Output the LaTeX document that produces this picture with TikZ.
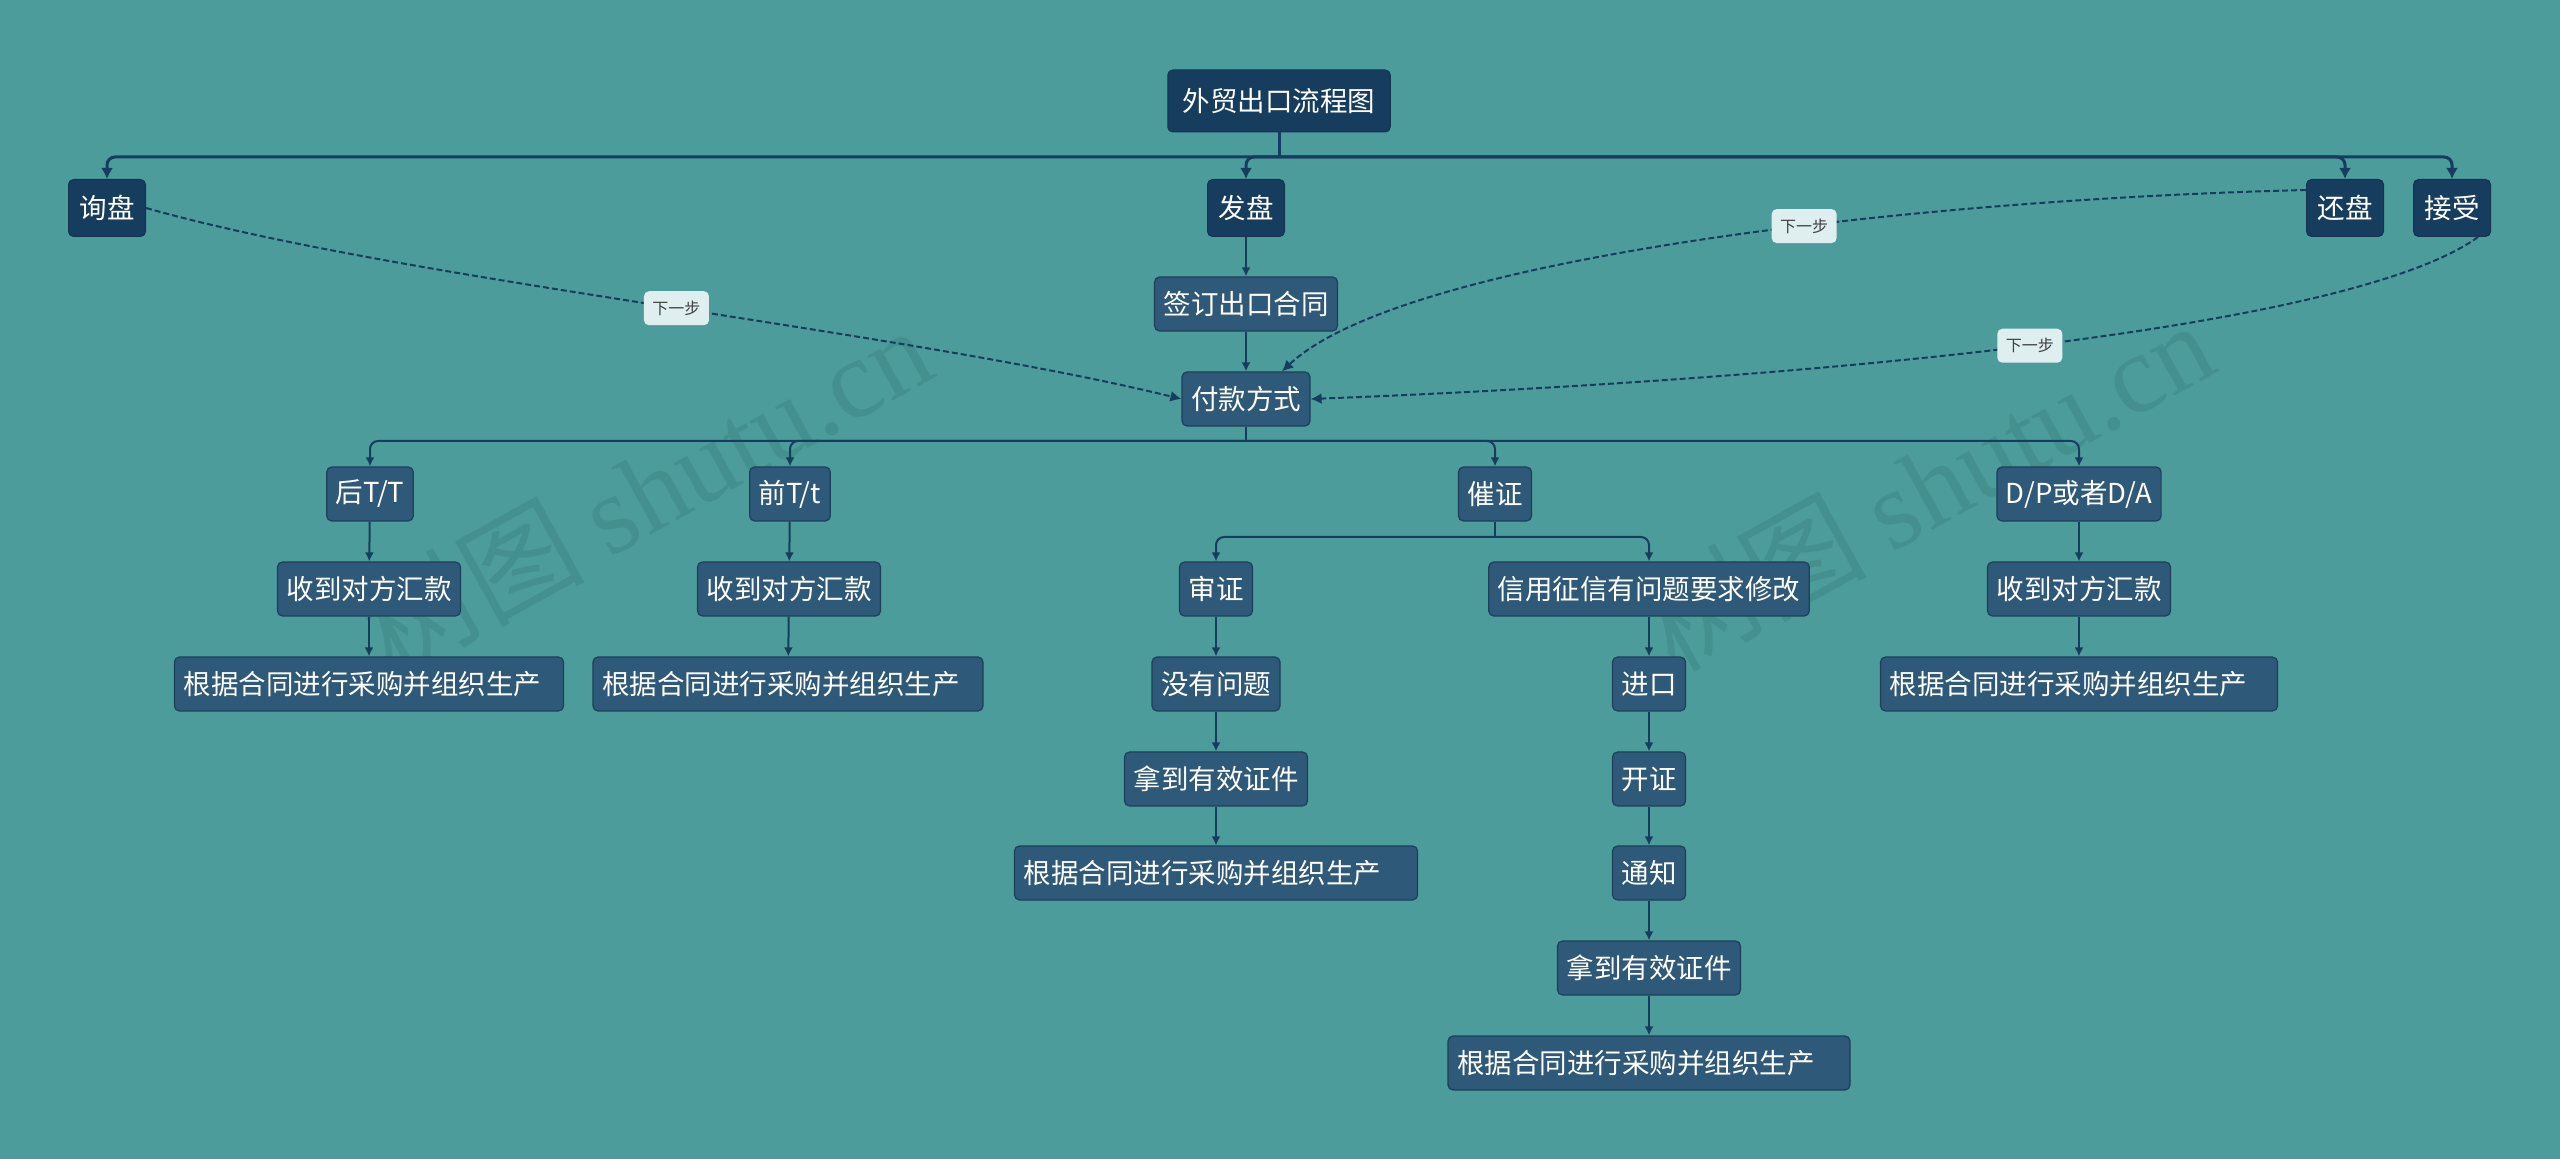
\documentclass[tikz,border=0pt]{standalone}
\usepackage{fontspec}
\setmainfont{Noto Sans CJK SC}
\newfontfamily\wmfont{Liberation Serif}
\usetikzlibrary{arrows.meta,calc}
\definecolor{bg}{HTML}{4D9C9C}
\definecolor{darkbox}{HTML}{173D5E}
\definecolor{midbox}{HTML}{2F5978}
\definecolor{midborder}{HTML}{1D3F5A}
\definecolor{labfill}{HTML}{DFEEEF}
\definecolor{wm}{HTML}{43908F}
\definecolor{linec}{HTML}{173D5E}
\begin{document}
\begin{tikzpicture}[x=0.5pt,y=-0.5pt,font=\fontsize{13.75}{16}\selectfont,
  base/.style={rounded corners=2.5pt,text=white,inner ysep=0pt},
  topbox/.style={base,fill=darkbox,draw=darkbox!85!black,line width=0.5pt,inner xsep=5.5pt,minimum height=28.5pt},
  rootbox/.style={topbox,inner xsep=7.5pt,minimum height=31pt},
  box/.style={base,fill=midbox,draw=midborder,line width=0.6pt,inner xsep=4.5pt,minimum height=27pt},
  genbox/.style={box,text width=#1,align=left},
  topline/.style={draw=linec,line width=1.5pt},
  toparrow/.style={topline,rounded corners=4pt,-{Latex[length=5.5pt,width=6pt]}},
  conline/.style={draw=linec,line width=1pt},
  conarrow/.style={conline,rounded corners=4pt,-{Latex[length=4.5pt,width=4.5pt]}},
  nextstep/.style={draw=linec,line width=1pt,dash pattern=on 3pt off 1.5pt,-{Latex[length=5.5pt,width=5.5pt]}},
  steplabel/.style={fill=labfill,text=black!75,rounded corners=2.5pt,font=\fontsize{8}{9}\selectfont,minimum width=32.5pt,minimum height=17pt,inner sep=1pt},
  wmark/.style={text=wm,rotate=29,font=\fontsize{56}{60}\selectfont}
]
\useasboundingbox (0,0) rectangle (2560,1159);
\fill[bg] (0,0) rectangle (2560,1159);

% watermarks
\node[wmark] (wm1) at (645,490) {树图 {\wmfont shutu.cn}};
\node[wmark] (wm2) at (1927,485) {树图 {\wmfont shutu.cn}};

% top level
\node[rootbox] (root) at (1279,101) {外贸出口流程图};
\node[topbox] (xunpan) at (107,208) {询盘};
\node[topbox] (fapan) at (1246,208) {发盘};
\node[topbox] (huanpan) at (2345,208) {还盘};
\node[topbox] (jieshou) at (2452,208) {接受};

\node[box] (qianding) at (1246,304) {签订出口合同};
\node[box] (fukuan) at (1246,399) {付款方式};

\node[box] (houtt) at (370,494) {后T/T};
\node[box] (qiantt) at (790,494) {前T/t};
\node[box] (cuizheng) at (1495,494) {催证};
\node[box] (dp) at (2079,494) {D/P或者D/A};

\node[box] (shou1) at (369,589) {收到对方汇款};
\node[box] (shou2) at (789,589) {收到对方汇款};
\node[box] (shenzheng) at (1216,589) {审证};
\node[box] (xinyong) at (1649,589) {信用征信有问题要求修改};
\node[box] (shou3) at (2079,589) {收到对方汇款};

\node[genbox=185.5pt] (gen1) at (369,684) {根据合同进行采购并组织生产};
\node[genbox=186pt] (gen2) at (788,684) {根据合同进行采购并组织生产};
\node[box] (meiyou) at (1216,684) {没有问题};
\node[box] (jinkou) at (1649,684) {进口};
\node[genbox=189.5pt] (gen3) at (2079,684) {根据合同进行采购并组织生产};

\node[box] (nadao1) at (1216,779) {拿到有效证件};
\node[box] (kaizheng) at (1649,779) {开证};

\node[genbox=192.5pt] (gen4) at (1216,873) {根据合同进行采购并组织生产};
\node[box] (tongzhi) at (1649,873) {通知};

\node[box] (nadao2) at (1649,968) {拿到有效证件};
\node[genbox=192pt] (gen5) at (1649,1063) {根据合同进行采购并组织生产};

% top bus
\coordinate (b1) at (1279,157);
\draw[topline] (root.south) -- (b1);
\draw[toparrow] (b1) -| (xunpan.north);
\draw[toparrow] (b1) -| (fapan.north);
\draw[toparrow] (b1) -| (huanpan.north);
\draw[toparrow] (b1) -| (jieshou.north);

\draw[conarrow] (fapan) -- (qianding);
\draw[conarrow] (qianding) -- (fukuan);

% second bus
\coordinate (b2) at (1246,441);
\draw[conline] (fukuan.south) -- (b2);
\draw[conarrow] (b2) -| (houtt.north);
\draw[conarrow] (b2) -| (qiantt.north);
\draw[conarrow] (b2) -| (cuizheng.north);
\draw[conarrow] (b2) -| (dp.north);

\draw[conarrow] (houtt) -- (shou1);
\draw[conarrow] (shou1) -- (gen1);
\draw[conarrow] (qiantt) -- (shou2);
\draw[conarrow] (shou2) -- (gen2);
\draw[conarrow] (dp) -- (shou3);
\draw[conarrow] (shou3) -- (gen3);

% third bus
\coordinate (b3) at (1495,537);
\draw[conline] (cuizheng.south) -- (b3);
\draw[conarrow] (b3) -| (shenzheng.north);
\draw[conarrow] (b3) -| (xinyong.north);

\draw[conarrow] (shenzheng) -- (meiyou);
\draw[conarrow] (meiyou) -- (nadao1);
\draw[conarrow] (nadao1) -- (gen4);
\draw[conarrow] (xinyong) -- (jinkou);
\draw[conarrow] (jinkou) -- (kaizheng);
\draw[conarrow] (kaizheng) -- (tongzhi);
\draw[conarrow] (tongzhi) -- (nadao2);
\draw[conarrow] (nadao2) -- (gen5);

% dashed "next step" links
\draw[nextstep] (xunpan.east) .. controls (400,280) and (900,330) .. (fukuan.west)
  node[steplabel,pos=0.52] (l1) {下一步};
\draw[nextstep] ($(huanpan.west)+(0,-18)$) .. controls (1900,200) and (1400,260) .. ($(fukuan.north)+(36,0)$)
  node[steplabel,pos=0.4] (l2) {下一步};
\draw[nextstep] ($(jieshou.south)+(26,0)$) .. controls (2350,330) and (1800,380) .. (fukuan.east)
  node[steplabel,pos=0.5] (l3) {下一步};
\end{tikzpicture}
\end{document}
